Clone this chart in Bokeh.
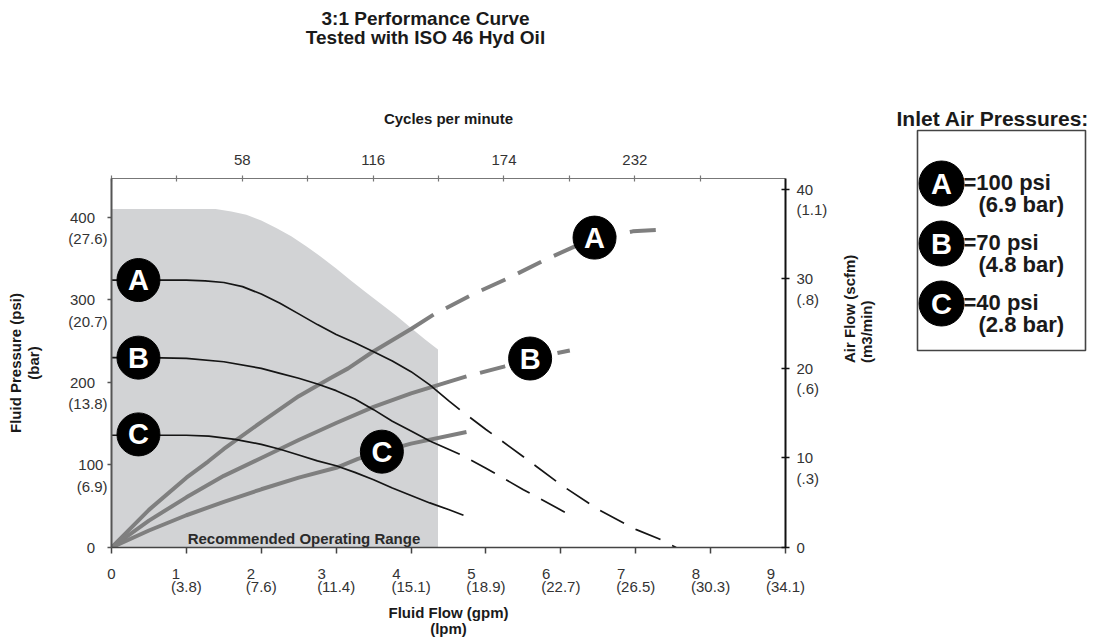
import math
from bokeh.plotting import figure
from bokeh.models import Range1d, LinearAxis, FixedTicker
from bokeh.layouts import column, row
from bokeh.embed import file_html
from bokeh.resources import INLINE
from bokeh.core.properties import value

FONT = "Liberation Sans"

# ---------------- data ----------------
title_lines = ["3:1 Performance Curve", "Tested with ISO 46 Hyd Oil"]

# recommended operating range boundary (gpm, psi)
range_gpm = [0, 1.39, 1.6, 1.8, 2.0, 2.2, 2.4, 2.6, 2.8, 3.0, 3.2, 3.4, 3.6, 3.8, 4.0, 4.2, 4.36]
range_psi = [410, 410, 407, 403, 396, 387, 377, 365, 352, 338, 323, 309, 295, 281, 266, 251, 240]

# fluid pressure (psi) vs fluid flow (gpm)
pa_gpm = [0, 0.5, 1.0, 1.25, 1.5, 1.75, 2.0, 2.25, 2.5, 2.75, 3.0, 3.25, 3.5, 3.75, 4.0, 4.25, 4.5, 4.65]
pa_psi = [324, 324, 324, 323, 321, 316, 307, 296, 283, 270, 258, 248, 237, 226, 213, 197, 178, 167]
pa_ext_gpm = [4.65, 5.0, 5.5, 6.0, 6.5, 7.0, 7.3, 7.54]
pa_ext_psi = [167, 143, 110, 76, 46, 22, 11, 0]

pb_gpm = [0, 0.5, 1.0, 1.5, 2.0, 2.25, 2.5, 2.75, 3.0, 3.25, 3.5, 3.75, 4.0, 4.25, 4.5, 4.65]
pb_psi = [230, 230, 229, 225, 217, 211, 205, 198, 190, 180, 167, 153, 141, 129, 119, 113]
pb_ext_gpm = [4.65, 5.0, 5.5, 6.09]
pb_ext_psi = [113, 96, 70, 41]

pc_gpm = [0, 0.5, 1.0, 1.3, 1.65, 2.0, 2.25, 2.5, 2.75, 3.0, 3.25, 3.5, 3.75, 4.0, 4.25, 4.5, 4.7]
pc_psi = [136, 136, 136, 135, 131, 125, 119, 112, 105, 99, 91, 82, 72, 63, 54, 46, 39]

# air flow (scfm) vs fluid flow (gpm)
aa_gpm = [0, 0.5, 1.0, 1.29, 1.5, 2.0, 2.5, 2.92, 3.16, 3.48, 4.0, 4.3]
aa_scfm = [0, 4.2, 7.8, 9.6, 11.0, 14.0, 16.9, 18.9, 20.0, 21.8, 24.4, 26.0]
aa_ext_gpm = [4.3, 4.83, 5.28, 5.81, 6.21, 6.45, 6.96, 7.41]
aa_ext_scfm = [26.0, 28.3, 30.0, 32.2, 33.7, 34.4, 35.3, 35.5]

ab_gpm = [0, 0.5, 1.0, 1.5, 2.0, 2.5, 3.0, 3.5, 4.0, 4.5, 4.74]
ab_scfm = [0, 3.0, 5.6, 8.0, 10.0, 12.0, 13.9, 15.7, 17.2, 18.5, 19.1]
ab_ext_gpm = [4.74, 5.24, 5.59, 6.12]
ab_ext_scfm = [19.1, 20.2, 21.1, 22.0]

ac_gpm = [0, 0.5, 1.0, 1.5, 2.0, 2.5, 3.0, 3.29, 3.61, 4.0, 4.74]
ac_scfm = [0, 1.9, 3.6, 5.1, 6.5, 7.8, 8.9, 9.9, 10.7, 11.6, 12.9]

letters = ["A", "B", "C"]
press_tag_gpm = [0.36, 0.36, 0.36]
press_tag_psi = [324, 230, 137]
air_tag_gpm = [6.45, 5.59, 3.61]
air_tag_scfm = [34.6, 21.1, 10.7]

legend_title = "Inlet  Air Pressures:"
legend_psi = ["=100 psi", "=70 psi", "=40 psi"]
legend_bar = ["(6.9 bar)", "(4.8 bar)", "(2.8 bar)"]

range_text = "Recommended Operating Range"

flow_ticks = [0, 1, 2, 3, 4, 5, 6, 7, 8, 9]
flow_labels = ["0", "1\n(3.8)", "2\n(7.6)", "3\n(11.4)", "4\n(15.1)", "5\n(18.9)",
               "6\n(22.7)", "7\n(26.5)", "8\n(30.3)", "9\n(34.1)"]
psi_ticks = [0, 100, 200, 300, 400]
psi_labels = ["0", "100\n(6.9)", "200\n(13.8)", "300\n(20.7)", "400\n(27.6)"]
air_ticks = [0, 10, 20, 30, 40]
air_labels = ["0", "10\n(.3)", "20\n(.6)", "30\n(.8)", "40\n(1.1)"]
cpm_ticks = [0, 29, 58, 87, 116, 145, 174, 203, 232, 261]
cpm_labels = ["", "", "58", "", "116", "", "174", "", "232", ""]

# ---------------- helpers ----------------
NB = "\u00a0"
CW = {"(": 0.333, ")": 0.333, ".": 0.278}


def _w(s):
    return sum(CW.get(c, 0.556) for c in s)


def pad_lines(lbl, lead_blank=False, single_pad=0):
    parts = lbl.split("\n")
    if len(parts) == 2:
        n = round((_w(parts[1]) - _w(parts[0])) / 0.278)
        parts[0] = parts[0] + NB * max(n, 0)
        if lead_blank:
            parts = [NB] + parts
    else:
        parts[0] = parts[0] + NB * single_pad
    return "\n".join(parts)


def style_axis(ax, color, lw, t_in, t_out):
    ax.axis_line_color = color
    ax.axis_line_width = lw
    ax.major_tick_line_color = color
    ax.major_tick_line_width = 1.5
    ax.major_tick_in = t_in
    ax.major_tick_out = t_out
    ax.minor_tick_line_color = None
    ax.major_label_text_font = FONT
    ax.major_label_text_font_size = "15px"
    ax.major_label_text_color = "#333333"
    ax.axis_label_text_font = FONT
    ax.axis_label_text_font_style = "bold"
    ax.axis_label_text_font_size = "15px"
    ax.axis_label_text_color = "#1a1a1a"


def blank_fig(w, h):
    f = figure(width=w, height=h, x_range=Range1d(0, w), y_range=Range1d(h, 0),
               output_backend="svg", toolbar_location=None, min_border=0,
               x_axis_location=None, y_axis_location=None, frame_align=False)
    f.grid.visible = False
    f.outline_line_color = None
    return f


TOTAL_W, TOP_H, MAIN_W, MAIN_H = 1093, 60, 895, 580

# ---------------- title strip ----------------
tf = blank_fig(TOTAL_W, TOP_H)
tf.text(x=[425, 425], y=[18, 37], text=title_lines, text_font=value(FONT),
        text_font_style="bold", text_font_size="19px", text_color="#1a1a1a",
        text_align="center", text_baseline="middle")

# ---------------- main chart ----------------
p = figure(width=MAIN_W, height=MAIN_H, x_range=Range1d(0, 9), y_range=Range1d(0, 447),
           output_backend="svg", toolbar_location=None, frame_align=False,
           min_border_left=111, min_border_right=MAIN_W - 786,
           min_border_top=178 - TOP_H, min_border_bottom=TOP_H + MAIN_H - 549)
p.extra_y_ranges = {"air": Range1d(0, 41.2)}
p.extra_x_ranges = {"cpm": Range1d(0, 298.8)}
p.xgrid.visible = False
p.ygrid.visible = False
p.outline_line_color = None

# operating range
p.patch([0] + range_gpm + [range_gpm[-1]], [0] + range_psi + [0],
        fill_color="#d2d3d5", line_color=None)
p.text(x=[2.57], y=[10.8], text=[range_text], text_font=value(FONT), text_font_style="bold",
       text_font_size="15px", text_color="#2a2a2a", text_align="center", text_baseline="middle")

# air flow curves
AIR = "#7f7f7f"
for gx, gy in [(aa_gpm, aa_scfm), (ab_gpm, ab_scfm), (ac_gpm, ac_scfm)]:
    p.line(gx, gy, y_range_name="air", line_color=AIR, line_width=4)
for gx, gy in [(aa_ext_gpm, aa_ext_scfm), (ab_ext_gpm, ab_ext_scfm)]:
    p.line(gx, gy, y_range_name="air", line_color=AIR, line_width=4,
           line_dash="26 14", line_dash_offset=26)

# fluid pressure curves
PRS = "#151515"
for gx, gy in [(pa_gpm, pa_psi), (pb_gpm, pb_psi), (pc_gpm, pc_psi)]:
    p.line(gx, gy, line_color=PRS, line_width=1.7)
for gx, gy in [(pa_ext_gpm, pa_ext_psi), (pb_ext_gpm, pb_ext_psi)]:
    p.line(gx, gy, line_color=PRS, line_width=1.7, line_dash="27 13", line_dash_offset=27)

# curve tags
p.scatter(press_tag_gpm, press_tag_psi, size=43, marker="circle", fill_color="black",
          line_color="black")
p.text(x=press_tag_gpm, y=press_tag_psi, text=letters, text_font=value(FONT),
       text_font_style="bold", text_font_size="29px", text_color="white",
       text_align="center", text_baseline="middle")
p.scatter(air_tag_gpm, air_tag_scfm, y_range_name="air", size=43, marker="circle",
          fill_color="black", line_color="black")
p.text(x=air_tag_gpm, y=air_tag_scfm, y_range_name="air", text=letters, text_font=value(FONT),
       text_font_style="bold", text_font_size="29px", text_color="white",
       text_align="center", text_baseline="middle")

# bottom axis
xa = p.xaxis[0]
style_axis(xa, "#444444", 1.5, 0, 6)
xa.ticker = FixedTicker(ticks=flow_ticks)
xa.major_label_overrides = {t: pad_lines(l) for t, l in zip(flow_ticks, flow_labels)}
xa.major_label_standoff = 11
xa.major_label_text_line_height = 0.8
xa.axis_label = "Fluid Flow (gpm)\n(lpm)"
xa.axis_label_text_line_height = 0.95
xa.axis_label_standoff = 6

# left axis
ya = p.yaxis[0]
style_axis(ya, "#555555", 2, 0, 4)
ya.ticker = FixedTicker(ticks=psi_ticks)
ya.major_label_overrides = {t: pad_lines(l, True, 3) for t, l in zip(psi_ticks, psi_labels)}
ya.major_label_standoff = 0
ya.major_label_text_line_height = 1.25
ya.axis_label = "Fluid Pressure (psi)\n(bar)"
ya.axis_label_text_line_height = 1.1
ya.axis_label_standoff = 23

# right axis
ra = LinearAxis(y_range_name="air")
style_axis(ra, "#111111", 2, 4, 4)
ra.ticker = FixedTicker(ticks=air_ticks)
ra.major_label_overrides = {t: pad_lines(l, True) for t, l in zip(air_ticks, air_labels)}
ra.major_label_standoff = 7
ra.major_label_text_line_height = 1.2
ra.axis_label = "Air Flow (scfm)\n(m3/min)"
ra.axis_label_text_line_height = 1.0
ra.axis_label_standoff = 28
ra.axis_label_orientation = math.pi / 2
p.add_layout(ra, "right")

# top axis
ta = LinearAxis(x_range_name="cpm")
style_axis(ta, "#777777", 1.2, 3, 3)
ta.major_tick_line_width = 1.2
ta.ticker = FixedTicker(ticks=cpm_ticks)
ta.major_label_overrides = {t: l for t, l in zip(cpm_ticks, cpm_labels)}
ta.major_label_standoff = 11
ta.axis_label = "Cycles per minute"
ta.axis_label_standoff = 25
p.add_layout(ta, "above")

# ---------------- legend panel ----------------
LW = TOTAL_W - MAIN_W
lg = blank_fig(LW, MAIN_H)
ox, oy = MAIN_W, TOP_H          # page offset of this panel
n = len(letters)
cys = [183 - oy + 60 * i for i in range(n)]
lg.quad(left=[917 - ox], right=[1085 - ox], top=[130 - oy], bottom=[350 - oy],
        fill_color=None, line_color="#444444", line_width=1.6)
lg.text(x=[1], y=[118 - oy], text=[legend_title], text_font=value(FONT),
        text_font_style="bold", text_font_size="21px", text_color="#1a1a1a",
        text_align="left", text_baseline="middle")
lg.scatter([941 - ox] * n, cys, size=45, marker="circle", fill_color="black",
           line_color="black")
lg.text(x=[941 - ox] * n, y=cys, text=letters, text_font=value(FONT), text_font_style="bold",
        text_font_size="29px", text_color="white", text_align="center", text_baseline="middle")
lg.text(x=[963 - ox] * n, y=[c - 1 for c in cys], text=legend_psi, text_font=value(FONT),
        text_font_style="bold", text_font_size="22px", text_color="#1a1a1a",
        text_align="left", text_baseline="middle")
lg.text(x=[978 - ox] * n, y=[c + 21 for c in cys], text=legend_bar, text_font=value(FONT),
        text_font_style="bold", text_font_size="22px", text_color="#1a1a1a",
        text_align="left", text_baseline="middle")

layout = column(tf, row(p, lg, spacing=0), spacing=0)
open("out.html", "w").write(file_html(layout, INLINE))
